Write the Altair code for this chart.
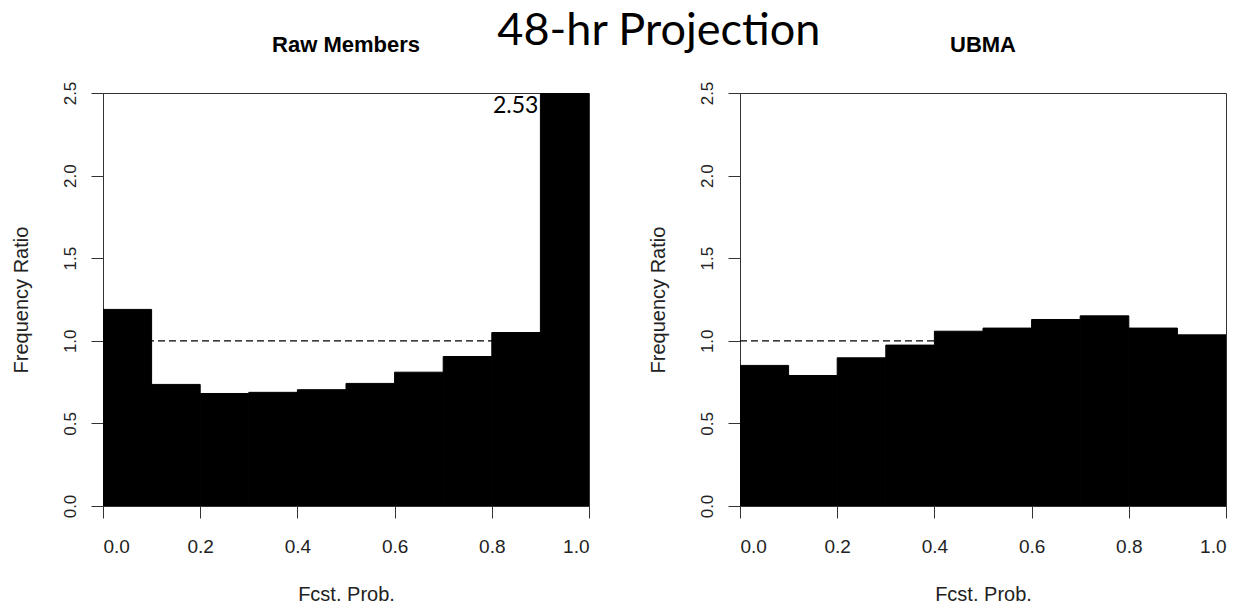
import altair as alt
import pandas as pd

# ---- data ----
bin_start = [0.0, 0.1, 0.2, 0.3, 0.4, 0.5, 0.6, 0.7, 0.8, 0.9]
bin_end = [0.1, 0.2, 0.3, 0.4, 0.5, 0.6, 0.7, 0.8, 0.9, 1.0]
raw_members = [1.19, 0.736, 0.681, 0.688, 0.704, 0.742, 0.81, 0.905, 1.05, 2.53]
ubma = [0.851, 0.79, 0.897, 0.974, 1.058, 1.077, 1.129, 1.151, 1.077, 1.036]
x_ticks = [0.0, 0.2, 0.4, 0.6, 0.8, 1.0]
y_ticks = [0.0, 0.5, 1.0, 1.5, 2.0, 2.5]
ref_level = [1.0]
panel_titles = ["Raw Members", "UBMA"]
overflow_label = ["2.53"]
overflow_x = [0.9]
overflow_y = [2.5]

W, H = 486, 413
AX = "#333333"


def panel(values, title, annotate=False):
    xscale = alt.Scale(domain=[0, 1], nice=False, zero=False)
    yscale = alt.Scale(domain=[0, 2.5], nice=False)
    xaxis = alt.Axis(values=x_ticks, format=".1f", title="Fcst. Prob.",
                     labelBaseline="middle", labelPadding=28,
                     titleX=W / 2, titleY=88, titleBaseline="middle")
    yaxis = alt.Axis(values=y_ticks, format=".1f", title="Frequency Ratio",
                     labelAngle=270, labelAlign="center", labelBaseline="middle",
                     labelPadding=21, labelFontSize=17,
                     titleX=-82, titleY=H / 2, titleAngle=270,
                     titleAlign="center", titleBaseline="middle")
    ref = pd.DataFrame({"y": ref_level, "x": [0.0], "x2": [1.0]})
    rule = alt.Chart(ref).mark_rule(strokeDash=[7, 4], color="black", strokeWidth=1.3).encode(
        x=alt.X("x:Q", scale=xscale, axis=xaxis),
        x2="x2:Q",
        y=alt.Y("y:Q", scale=yscale, axis=yaxis),
    )
    df = pd.DataFrame({"lo": bin_start, "hi": bin_end, "ratio": values, "base": [0.0] * len(values)})
    bars = alt.Chart(df).mark_rect(color="black", stroke="black", strokeWidth=1, clip=True).encode(
        x="lo:Q", x2="hi:Q", y="ratio:Q", y2="base:Q"
    )
    layers = [rule, bars]
    if annotate:
        ann = pd.DataFrame({"x": overflow_x, "y": overflow_y, "t": overflow_label})
        layers.append(
            alt.Chart(ann).mark_text(align="right", baseline="alphabetic", dx=-2, dy=20,
                                     font="Lato", fontSize=23, color="black").encode(
                x="x:Q", y="y:Q", text="t:N")
        )
    return alt.layer(*layers).properties(
        width=W, height=H,
        title=alt.TitleParams(title, font="Liberation Sans", fontSize=22, fontWeight="bold",
                              color="black", anchor="middle", frame="group",
                              baseline="alphabetic", offset=7),
    )


chart = alt.hconcat(
    panel(raw_members, panel_titles[0], annotate=True),
    panel(ubma, panel_titles[1]),
    spacing=56,
).properties(
    title=alt.TitleParams("48-hr Projection", font="Lato", fontSize=45, fontWeight="normal",
                          color="black", anchor="middle", dx=40, offset=-20),
    padding={"left": 10, "top": 8, "right": 0, "bottom": 0},
).configure_view(
    stroke=AX, strokeWidth=1
).configure_axis(
    grid=False, tickSize=12, tickColor=AX, domainColor=AX, tickWidth=1, domainWidth=1,
    labelFont="Liberation Sans", labelFontSize=19, labelColor="#222222",
    titleFont="Liberation Sans", titleFontSize=20, titleFontWeight="normal", titleColor="#222222",
)

chart.save("out.html", embed_options={"renderer": "svg", "actions": False})
